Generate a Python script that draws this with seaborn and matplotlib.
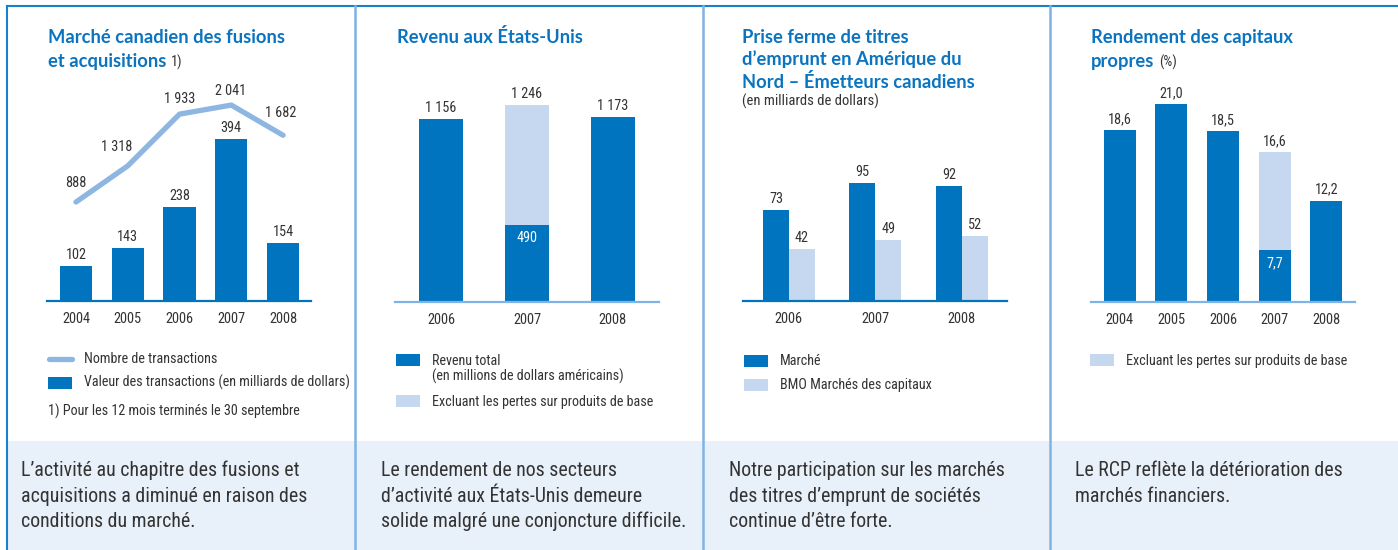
import matplotlib
matplotlib.use('Agg')
import matplotlib.pyplot as plt
import matplotlib.font_manager as fm
import seaborn as sns
import pandas as pd
import numpy as np
from matplotlib.patches import Rectangle
from matplotlib.lines import Line2D

# données
years5 = ['2004', '2005', '2006', '2007', '2008']
ma_value = [102, 143, 238, 394, 154]          # valeur des transactions (G$)
ma_count = [888, 1318, 1933, 2041, 1682]      # nombre de transactions
years3 = ['2006', '2007', '2008']
us_revenue = [1156, 490, 1173]                # revenu total (M$ US)
us_excl_year = ['2007']
us_excl = [1246]                              # excluant les pertes sur produits de base
dcm_market = [73, 95, 92]                     # marché
dcm_bmo = [42, 49, 52]                        # BMO Marchés des capitaux
roe = [18.6, 21.0, 18.5, 7.7, 12.2]           # RCP (%)
roe_excl_year = ['2007']
roe_excl = [16.6]

DARK = '#0074bf'
LIGHT = '#c6d8ef'
LINE = '#8db6e1'
TITLE = '#0a74c0'
TXT = '#333333'
SEP = '#7eb3e3'
BAND = '#e8f0f9'

# police étroite si disponible
fonts = fm.fontManager.ttflist
names = {f.name for f in fonts}
k = 1.0
if 'Liberation Sans Narrow' in names:
    plt.rcParams['font.family'] = ['Liberation Sans Narrow', 'DejaVu Sans']
elif 'Roboto Condensed' in names:
    plt.rcParams['font.family'] = ['Roboto Condensed', 'DejaVu Sans']
    k = 0.95
elif any(f.name == 'DejaVu Sans' and 'condensed' in str(f.stretch) for f in fonts):
    plt.rcParams['font.family'] = ['DejaVu Sans']
    plt.rcParams['font.stretch'] = 'condensed'
    k = 0.88
else:
    plt.rcParams['font.family'] = ['Liberation Sans', 'DejaVu Sans']
    k = 0.84

FS_LAB = 10.8 * k
FS_TICK = 10.9 * k
FS_LEG = 10.7 * k
FS_NOTE = 15.1 * k
FS_TITLE = 13.2

W, H = 1398, 550
fig = plt.figure(figsize=(W / 100, H / 100), dpi=100)


def fx(x):
    return x / W


def fy(y):
    return 1 - y / H


def add_ax(x0, x1, ytop, ybot):
    return fig.add_axes([fx(x0), fy(ybot), (x1 - x0) / W, (ybot - ytop) / H])


def fr(v, dec=False):
    if dec:
        return f'{v:.1f}'.replace('.', ',')
    return f'{v:,}'.replace(',', ' ')


def style(ax, spine_color):
    for s in ['top', 'left', 'right']:
        ax.spines[s].set_visible(False)
    ax.spines['bottom'].set_color(spine_color)
    ax.spines['bottom'].set_linewidth(1.6)
    ax.set_yticks([])
    ax.set_xlabel('')
    ax.set_ylabel('')
    ax.tick_params(axis='x', length=0, pad=8, labelsize=FS_TICK, colors=TXT)
    ax.patch.set_alpha(0)


def label(ax, x, y, txt, dx=0, dy=4, color=TXT, va='bottom'):
    ax.annotate(txt, (x, y), xytext=(dx, dy), textcoords='offset pixels',
                ha='center', va=va, fontsize=FS_LAB, color=color, annotation_clip=False)


def ftext(x, y, s, **kw):
    kw.setdefault('color', TXT)
    kw.setdefault('va', 'baseline')
    return fig.text(fx(x), fy(y), s, **kw)


def title(x, y, s):
    return ftext(x, y, s, family='Lato', weight='bold', fontsize=FS_TITLE, color=TITLE)


def swatch(x, y, color):
    fig.add_artist(Rectangle((fx(x), fy(y + 12)), 24 / W, 12 / H, transform=fig.transFigure,
                             facecolor=color, edgecolor='none'))


# fond et cadres
fig.add_artist(Rectangle((fx(7), 0), 1 - fx(7), fy(441), transform=fig.transFigure,
                         facecolor=BAND, edgecolor='none', zorder=0))
fig.add_artist(Line2D([fx(7), 1], [fy(6), fy(6)], color='#1a7fcc', lw=1.5, transform=fig.transFigure))
fig.add_artist(Line2D([fx(7), fx(7)], [fy(6), 0], color='#1a7fcc', lw=1.5, transform=fig.transFigure))
for xs in [355, 703, 1050]:
    fig.add_artist(Line2D([fx(xs), fx(xs)], [fy(6), 0], color=SEP, lw=1.8, transform=fig.transFigure))

# ---- 1) fusions et acquisitions
ax1 = add_ax(47, 311, 80, 301)
sns.barplot(x=years5, y=ma_value, color=DARK, saturation=1, width=0.62, linewidth=0, ax=ax1)
ax1.set_xlim(-0.56, 4.54)
ax1.set_ylim(21.6, 529.7)
style(ax1, DARK)
for i, v in enumerate(ma_value):
    label(ax1, i, v, fr(v))
ax1b = ax1.twinx()
sns.lineplot(x=np.arange(5), y=ma_count, color=LINE, linewidth=3.8, solid_capstyle='round', ax=ax1b)
ax1b.set_ylim(-289, 2339)
ax1b.set_xlim(-0.56, 4.54)
ax1b.axis('off')
line_off = [(0, 12), (-11, 12), (0, 8), (-1, 7), (-2, 15)]
for i, v in enumerate(ma_count):
    label(ax1b, i, v, fr(v), dx=line_off[i][0], dy=line_off[i][1])

title(48, 43, 'Marché canadien des fusions')
t1b = title(48, 67, 'et acquisitions')
fig.add_artist(Line2D([fx(49), fx(72)], [fy(359), fy(359)], color=LINE, lw=3.8,
                      solid_capstyle='round', transform=fig.transFigure))
ftext(84, 363, 'Nombre de transactions', fontsize=FS_LEG)
swatch(48, 377, DARK)
ftext(84, 387, 'Valeur des transactions (en milliards de dollars)', fontsize=FS_LEG)
ftext(48, 416, '1) Pour les 12 mois terminés le 30 septembre', fontsize=FS_LEG)

# ---- 2) revenu aux États-Unis
ax2 = add_ax(395, 659, 81, 302)
sns.barplot(x=us_excl_year, y=us_excl, order=years3, color=LIGHT, saturation=1, width=0.51,
            linewidth=0, ax=ax2)
sns.barplot(x=years3, y=us_revenue, order=years3, color=DARK, saturation=1, width=0.51,
            linewidth=0, ax=ax2)
ax2.set_xlim(-0.535, 2.535)
ax2.set_ylim(0, 1399)
style(ax2, SEP)
for i, v in enumerate(us_revenue):
    if years3[i] in us_excl_year:
        label(ax2, i, v, fr(v), dy=-6, color='white', va='top')
    else:
        label(ax2, i, v, fr(v))
for y, v in zip(us_excl_year, us_excl):
    label(ax2, years3.index(y), v, fr(v))

title(397, 43, 'Revenu aux États-Unis')
swatch(396, 354, DARK)
ftext(432, 365, 'Revenu total', fontsize=FS_LEG)
ftext(432, 381, '(en millions de dollars américains)', fontsize=FS_LEG)
swatch(396, 395, LIGHT)
ftext(432, 406, 'Excluant les pertes sur produits de base', fontsize=FS_LEG)

# ---- 3) prise ferme de titres d'emprunt
dcm = pd.DataFrame({
    'annee': years3 * 2,
    'valeur': dcm_market + dcm_bmo,
    'serie': ['Marché'] * 3 + ['BMO Marchés des capitaux'] * 3,
})
ax3 = add_ax(743, 1007, 80, 301)
sns.barplot(data=dcm, x='annee', y='valeur', hue='serie', palette=[DARK, LIGHT], saturation=1,
            width=0.6, linewidth=0, legend=False, ax=ax3)
ax3.set_xlim(-0.53, 2.52)
ax3.set_ylim(0, 177.5)
style(ax3, DARK)
for i in range(3):
    label(ax3, i - 0.15, dcm_market[i], fr(dcm_market[i]))
    label(ax3, i + 0.15, dcm_bmo[i], fr(dcm_bmo[i]))

for j, s in enumerate(['Prise ferme de titres', 'd’emprunt en Amérique du', 'Nord – Émetteurs canadiens']):
    title(742, 43 + 22.5 * j, s)
ftext(742, 106, '(en milliards de dollars)', fontsize=FS_LEG * 1.04)
swatch(744, 355, DARK)
ftext(780, 365, 'Marché', fontsize=FS_LEG)
swatch(744, 379, LIGHT)
ftext(780, 389, 'BMO Marchés des capitaux', fontsize=FS_LEG)

# ---- 4) rendement des capitaux propres
ax4 = add_ax(1091, 1355, 81, 302)
sns.barplot(x=roe_excl_year, y=roe_excl, order=years5, color=LIGHT, saturation=1, width=0.62,
            linewidth=0, ax=ax4)
sns.barplot(x=years5, y=roe, order=years5, color=DARK, saturation=1, width=0.62,
            linewidth=0, ax=ax4)
ax4.set_xlim(-0.56, 4.56)
ax4.set_ylim(2.96, 23.09)
style(ax4, SEP)
for i, v in enumerate(roe):
    if years5[i] in roe_excl_year:
        label(ax4, i, v, fr(v, True), dy=-6, color='white', va='top')
    else:
        label(ax4, i, v, fr(v, True))
for y, v in zip(roe_excl_year, roe_excl):
    label(ax4, years5.index(y), v, fr(v, True))

title(1091, 43, 'Rendement des capitaux')
t4b = title(1091, 67, 'propres')
swatch(1090, 354, LIGHT)
ftext(1126, 365, 'Excluant les pertes sur produits de base', fontsize=FS_LEG)

# suffixes placés après les titres
fig.canvas.draw()
r = fig.canvas.get_renderer()
for t, s in [(t1b, '1)'), (t4b, '(%)')]:
    bb = t.get_window_extent(r)
    fig.text((bb.x1 + 5) / W, fy(67), s, color=TXT, fontsize=FS_LEG, va='baseline')

# textes du bas
notes = [
    (21, ['L’activité au chapitre des fusions et', 'acquisitions a diminué en raison des',
          'conditions du marché.']),
    (381, ['Le rendement de nos secteurs', 'd’activité aux États-Unis demeure',
           'solide malgré une conjoncture difficile.']),
    (729, ['Notre participation sur les marchés', 'des titres d’emprunt de sociétés',
           'continue d’être forte.']),
    (1075, ['Le RCP reflète la détérioration des', 'marchés financiers.']),
]
for x, lines in notes:
    for j, s in enumerate(lines):
        ftext(x, 476 + 25.5 * j, s, fontsize=FS_NOTE)

fig.savefig('out.png', dpi=100)
